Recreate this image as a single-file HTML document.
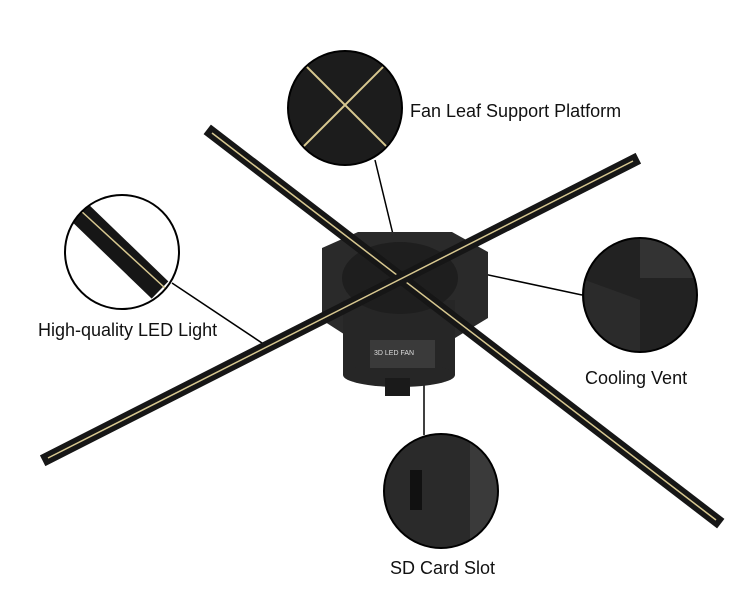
<!DOCTYPE html>
<html><head><meta charset="utf-8"><style>
html,body{margin:0;padding:0;background:#fff;}
svg{display:block;}
text{font-family:"Liberation Sans",sans-serif;font-size:18px;fill:#111;}
</style></head><body>
<svg width="750" height="607" viewBox="0 0 750 607" xmlns="http://www.w3.org/2000/svg">
<defs>
<clipPath id="cT"><circle cx="345" cy="108" r="57"/></clipPath>
<clipPath id="cL"><circle cx="122" cy="252" r="57"/></clipPath>
<clipPath id="cR"><circle cx="640" cy="295" r="57"/></clipPath>
<clipPath id="cB"><circle cx="441" cy="491" r="57"/></clipPath>
</defs>
<line x1="375" y1="160" x2="398" y2="255" stroke="#000" stroke-width="1.5"/>
<line x1="172" y1="283" x2="268" y2="347" stroke="#000" stroke-width="1.5"/>
<line x1="582" y1="295" x2="465" y2="270" stroke="#000" stroke-width="1.5"/>
<line x1="424" y1="435" x2="424" y2="355" stroke="#000" stroke-width="1.5"/>
<path d="M322 248 L358 232 L452 232 L488 252 L488 318 L455 338 L350 338 L322 320 Z" fill="#2a2a2a"/>
<rect x="343" y="300" width="112" height="75" fill="#262626"/>
<ellipse cx="399" cy="375" rx="56" ry="12" fill="#262626"/>
<rect x="370" y="340" width="65" height="28" fill="#3a3a3a"/>
<text x="374" y="355" style="font-size:7px;fill:#ddd">3D LED FAN</text>
<rect x="385" y="378" width="25" height="18" fill="#1a1a1a"/>
<ellipse cx="400" cy="278" rx="58" ry="36" fill="#1e1e1e"/>
<line x1="212" y1="133" x2="716" y2="520" stroke="#161616" stroke-width="12" stroke-linecap="square"/>
<line x1="212" y1="133" x2="716" y2="520" stroke="#d8c890" stroke-width="1.5"/>
<line x1="633" y1="161" x2="48" y2="458" stroke="#161616" stroke-width="12" stroke-linecap="square"/>
<line x1="633" y1="161" x2="48" y2="458" stroke="#d8c890" stroke-width="1.5"/>
<g clip-path="url(#cT)">
<rect x="280" y="45" width="130" height="130" fill="#1c1c1c"/>
<line x1="285" y1="45" x2="405" y2="165" stroke="#d8c890" stroke-width="2"/>
<line x1="405" y1="45" x2="285" y2="165" stroke="#d8c890" stroke-width="2"/>
</g>
<circle cx="345" cy="108" r="57" fill="none" stroke="#000" stroke-width="2"/>
<g clip-path="url(#cL)">
<rect x="60" y="190" width="130" height="130" fill="#fff"/>
<line x1="75" y1="208" x2="160" y2="290" stroke="#161616" stroke-width="24"/>
<line x1="80" y1="210" x2="165" y2="288" stroke="#d8c890" stroke-width="1.5"/>
</g>
<circle cx="122" cy="252" r="57" fill="none" stroke="#000" stroke-width="2"/>
<g clip-path="url(#cR)">
<rect x="580" y="235" width="120" height="120" fill="#222"/>
<rect x="640" y="238" width="60" height="40" fill="#333"/>
<path d="M585 280 L640 300 L640 355 L585 355 Z" fill="#2b2b2b"/>
</g>
<circle cx="640" cy="295" r="57" fill="none" stroke="#000" stroke-width="2"/>
<g clip-path="url(#cB)">
<rect x="380" y="430" width="125" height="125" fill="#2a2a2a"/>
<rect x="470" y="440" width="35" height="100" fill="#3a3a3a"/>
<rect x="410" y="470" width="12" height="40" fill="#111"/>
</g>
<circle cx="441" cy="491" r="57" fill="none" stroke="#000" stroke-width="2"/>
<text x="410" y="117">Fan Leaf Support Platform</text>
<text x="38" y="336">High-quality LED Light</text>
<text x="585" y="384">Cooling Vent</text>
<text x="390" y="574">SD Card Slot</text>
</svg>
</body></html>
